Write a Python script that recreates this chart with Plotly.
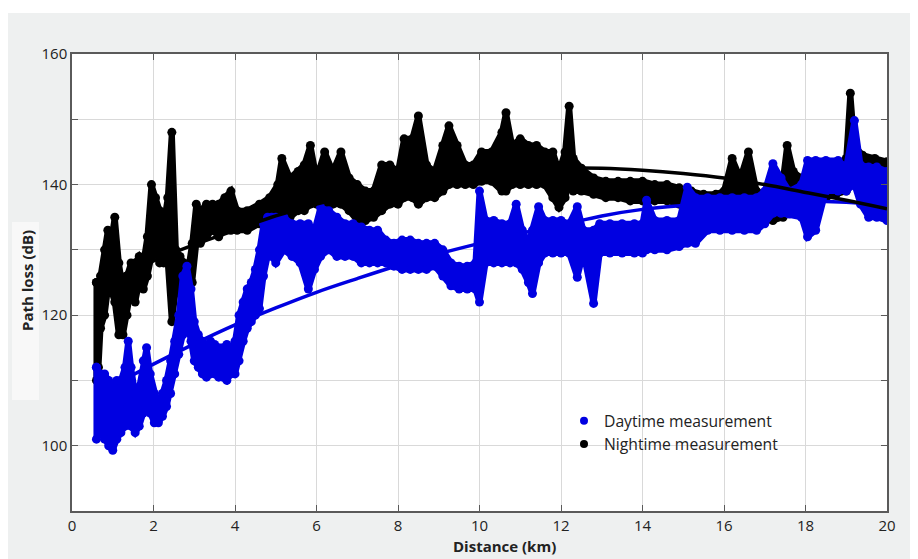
import plotly.graph_objects as go

# ---- data: distance (km) and the low / high edge of the
# ---- measured path-loss cloud (dB) at that distance
night_x = [0.60,0.65,0.70,0.80,0.88,0.95,1.05,1.15,1.25,1.35,1.45,1.55,1.65,1.75,1.85,1.95,2.05,2.15,2.25,2.35,
           2.45,2.55,2.65,2.75,2.85,2.95,3.05,3.15,3.30,3.45,3.60,3.75,3.90,4.05,4.30,4.60,4.85,5.05,5.15,5.35,
           5.55,5.70,5.85,6.00,6.20,6.40,6.60,6.80,7.00,7.20,7.40,7.60,7.80,8.00,8.15,8.35,8.50,8.70,8.90,9.10,
           9.25,9.45,9.65,9.85,10.05,10.30,10.55,10.65,10.80,11.00,11.20,11.40,11.60,11.80,11.95,12.10,12.20,12.30,12.50,12.80,
           13.10,13.40,13.70,14.00,14.30,14.60,14.90,15.20,15.50,15.80,16.00,16.20,16.40,16.60,16.80,17.00,17.20,17.45,17.55,17.70,
           17.90,18.10,18.30,18.50,18.75,19.00,19.10,19.20,19.40,19.70,20.00]
night_lo = [110,112,118,120,124,124,122,117,117,120,124,122,125,124,126,129,130,128,128,128,
            119,124,124,122,123,125,131,131,132,133,132,133,133,133,133,134,135,136,136,135,
            136,136,137,137,137,137,137,136,134.5,134.5,135,136,137,137,138,138,137,138,138,139,
            140,140,140,140,140.5,140.5,139,139,140,140,140,140,140,138,136.5,138,140,139,139,138.5,
            138,138,137.5,137.5,137.5,137.5,137,136,136,136,136,136,136,135,134.5,134.5,134.5,135,136,137,
            137,135,137,138,138.5,139,140,141,141.5,141.5,141.5]
night_hi = [125,125,126,130,133,131,135,128,124,126,128,128,129,128,132,140,138,136,134,138,
            148,130,129,128,127,131,137,136,137,137,137,138,139,136,136,137,138,140,144,141,
            142,143,146,141,145,142,145,141,140,139,139,143,143,142,147,147,150.5,143,142,146,
            149,146,143,143,145,145,148,151,146,147,146,146,145,145,142,145,152,144,142.5,141,
            140.5,140.5,140.5,140.5,140,140,139.5,139,138.5,138.5,139,144,141,145,139,138.5,138,141,146,142,
            141,141,142,143,143,144,154,146,144.5,144,143.5]

day_x = [0.60,0.70,0.80,0.90,1.00,1.10,1.20,1.30,1.38,1.45,1.55,1.65,1.75,1.83,1.92,2.02,2.12,2.22,2.32,2.42,
         2.52,2.62,2.72,2.82,2.92,3.00,3.10,3.20,3.30,3.40,3.50,3.60,3.70,3.80,3.90,4.00,4.10,4.20,4.30,4.40,
         4.50,4.60,4.70,4.80,4.90,5.00,5.20,5.40,5.60,5.80,5.95,6.10,6.30,6.50,6.70,6.90,7.10,7.30,7.50,7.70,
         7.90,8.10,8.30,8.50,8.70,8.90,9.10,9.30,9.50,9.70,9.90,10.00,10.15,10.35,10.55,10.75,10.90,11.05,11.20,11.30,
         11.45,11.60,11.80,12.00,12.20,12.40,12.55,12.80,12.95,13.20,13.50,13.80,14.00,14.10,14.30,14.60,14.90,15.10,15.30,15.60,
         15.90,16.20,16.50,16.80,17.00,17.20,17.40,17.60,17.90,18.05,18.25,18.50,18.80,19.00,19.20,19.35,19.55,19.75,20.00]
day_lo = [101,102,101,100,99.3,101,102,103,106,103,102,103,105,108,105,103.5,103.5,104.5,106,108,
          111,114,117,119,116,113,112,111,110.5,111,111,110.5,110.5,110,111,111,113,116,118,119,
          120,121,126,129,129,128,130,129,128,124,127,129,130,129,129,129,128,128,128,128,
          127.5,127,127,127,127,127.5,126,124.5,124,124,124,122,128,128,128,128,128,127,125,123.3,
          128,129.5,129.5,129.5,129.5,125.8,129.5,121.8,129.5,129.5,129.5,129.5,129.5,130,130,130,130.5,131,131,133,
          133,133,133,133,134,135.6,135.6,135.5,135,132,133,139,139,139,140,137,135,135,134.5]
day_hi = [112,111,111,110,109,110,110,112,116,112,108,109,113,115,111,108,106,108,110,113,
          116,120,126,127.5,124,119,117,116,115,116,115.5,115,115,115.5,115,116,120,122,124,125,
          127,130,134,135,135,135,135,134,134,134,133,136.5,136,135,134,134,133.5,133,133,131.5,
          131,131.5,131.5,131,131,131,130,128,127.5,127.5,128,139,134.5,134.5,134,134,137,133,131,133,
          136.6,134.5,134.5,134.5,134,136.6,133,133,134,134,134,134,134,137.6,134.5,134.5,134.5,139.6,138,138,
          138,138,138,138,139,143.2,141,139,140,143.7,143.7,143.7,143.7,142.7,149.8,143,142.7,142.7,142]

# fitted curves
night_fit_x = [0.65,1,2,3,4,5,6,7,8,9,10,11,12,13,14,15,16,17,18,19,20]
night_fit_y = [124.6,125.5,128.3,130.8,133.0,135.2,137.0,138.6,139.9,140.9,141.7,142.2,142.5,142.5,142.2,141.7,141.0,140.0,138.8,137.6,136.3]
day_fit_x = [1.3,2,3,4,5,6,7,8,9,10,11,12,13,14,15,16,17,18,19,20]
day_fit_y = [110.2,112.5,115.6,118.5,121.1,123.5,125.6,127.6,129.4,131.0,132.5,133.8,135.2,136.2,136.8,137.2,137.4,137.5,137.3,136.8]

x_ticks = [0,2,4,6,8,10,12,14,16,18,20]
y_ticks = [100,110,120,130,140,150,160]
y_ticktext = ["100","","120","","140","","160"]

BLUE = "#0000e1"
BLACK = "#000000"


def cloud(xs, lo, hi, color):
    # outline of the measured cloud: along the upper edge, then back along the lower edge
    px = list(xs) + list(xs)[::-1] + [xs[0]]
    py = list(hi) + list(lo)[::-1] + [hi[0]]
    return go.Scatter(x=px, y=py, mode="lines+markers", fill="toself", fillcolor=color,
                      line=dict(color=color, width=6), marker=dict(color=color, size=9),
                      showlegend=False, hoverinfo="skip")


fig = go.Figure()
fig.add_trace(cloud(night_x, night_lo, night_hi, BLACK))
fig.add_trace(cloud(day_x, day_lo, day_hi, BLUE))
fig.add_trace(go.Scatter(x=day_fit_x, y=day_fit_y, mode="lines",
                         line=dict(color=BLUE, width=3.5, shape="spline"), showlegend=False))
fig.add_trace(go.Scatter(x=night_fit_x, y=night_fit_y, mode="lines",
                         line=dict(color=BLACK, width=3.5, shape="spline"), showlegend=False))
# legend entries
fig.add_trace(go.Scatter(x=[None], y=[None], mode="markers", marker=dict(color=BLUE, size=8),
                         name="Daytime measurement"))
fig.add_trace(go.Scatter(x=[None], y=[None], mode="markers", marker=dict(color=BLACK, size=8),
                         name="Nightime measurement"))

# page has an 8px body margin: work in page pixels and convert
OFF = 8
W, H = 918 - OFF, 559 - OFF
PL, PR, PT, PB = 72, 887, 54, 511          # plot area in page pixels
L, R, T, B = PL - OFF, (W + OFF) - PR, PT - OFF, (H + OFF) - PB
pw, ph = PR - PL, PB - PT


def fx(p):
    return (p - PL) / pw


def fy(p):
    return (PB - p) / ph


axis_common = dict(showgrid=True, gridcolor="#d9d9d9", gridwidth=1, zeroline=False,
                   showline=True, linecolor="#5a5a5a", linewidth=1.5, mirror="ticks",
                   ticks="inside", ticklen=6, tickcolor="#5a5a5a",
                   tickfont=dict(family="Open Sans", size=15, color="#222222"))

fig.update_layout(
    width=W, height=H,
    margin=dict(l=L, r=R, t=T, b=B, autoexpand=False),
    paper_bgcolor="#eef0f0",
    plot_bgcolor="#ffffff",
    font=dict(family="Open Sans", color="#222222"),
    xaxis=dict(range=[0, 20], tickvals=x_ticks, automargin=False, **axis_common),
    yaxis=dict(range=[90, 160], tickvals=y_ticks, ticktext=y_ticktext, automargin=False, **axis_common),
    legend=dict(x=fx(564), y=fy(404), xanchor="left", yanchor="top",
                bgcolor="rgba(0,0,0,0)", font=dict(family="Open Sans", size=15.7, color="#222222"),
                tracegroupgap=0, itemwidth=30),
    shapes=[
        dict(type="rect", xref="paper", yref="paper", x0=fx(0), x1=fx(W + OFF), y0=fy(13), y1=fy(OFF),
             fillcolor="#ffffff", line=dict(width=0), layer="below"),
        dict(type="rect", xref="paper", yref="paper", x0=fx(12), x1=fx(39), y0=fy(400), y1=fy(222),
             fillcolor="#f8f8f8", line=dict(width=0), layer="below"),
    ],
    annotations=[
        dict(text="<b>Path loss (dB)</b>", xref="paper", yref="paper", x=fx(27), y=fy(281),
             xanchor="center", yanchor="middle",
             textangle=-90, showarrow=False, font=dict(family="Open Sans", size=15, color="#222222")),
        dict(text="<b>Distance (km)</b>", xref="paper", yref="paper", x=fx(504), y=fy(546),
             xanchor="center", yanchor="middle",
             showarrow=False, font=dict(family="Open Sans", size=15, color="#222222")),
    ],
)

fig.write_html("out.html")
